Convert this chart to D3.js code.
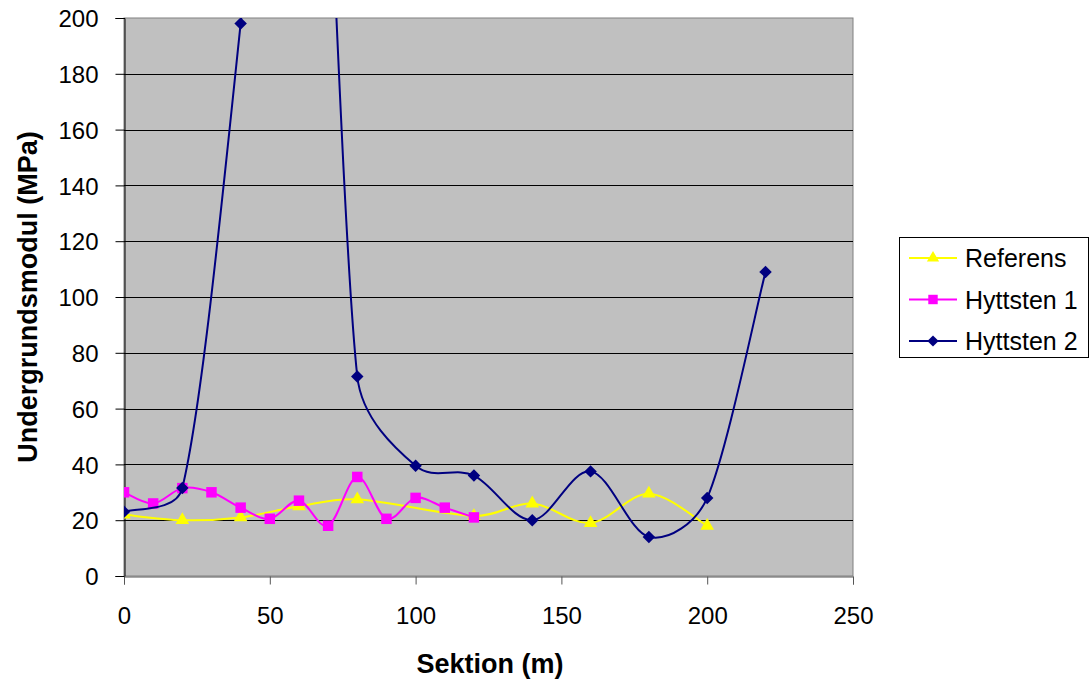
<!DOCTYPE html>
<html>
<head>
<meta charset="utf-8">
<script src="https://cdn.jsdelivr.net/npm/d3@7"></script>
<style>
  body { margin: 0; background: #fff; }
  svg text { font-family: "Liberation Sans", Arial, sans-serif; }
</style>
</head>
<body>
<div id="chart"></div>
<script>
// Values
const refSections = [0, 20, 40, 60, 80, 120, 140, 160, 180, 200];
const refValues = [22, 20, 21, 25, 27.5, 21.5, 26, 19, 29.5, 18];

const hyt1Sections = [0, 10, 20, 30, 40, 50, 60, 70, 80, 90, 100, 110, 120];
const hyt1Values = [30, 26, 31.5, 30, 24.5, 20.5, 27, 18, 35.5, 20.5, 28, 24.5, 21];

const hyt2Sections = [0, 20, 40, 60, 80, 100, 120, 140, 160, 180, 200, 220];
const hyt2Values = [23, 31.5, 198, 430, 71.5, 39.5, 36, 20, 37.5, 14, 28, 109];

const xTicks = [0, 50, 100, 150, 200, 250];
const yTicks = [0, 20, 40, 60, 80, 100, 120, 140, 160, 180, 200];

const series = [
  { name: "Referens", color: "#FFFF00", symbol: "triangle", x: refSections, y: refValues },
  { name: "Hyttsten 1", color: "#FF00FF", symbol: "square", x: hyt1Sections, y: hyt1Values },
  { name: "Hyttsten 2", color: "#000080", symbol: "diamond", x: hyt2Sections, y: hyt2Values }
];

const W = 1091, H = 682;
const plot = { left: 124, top: 18, right: 853, bottom: 576 };

const svg = d3.select("#chart")
  .append("svg")
  .attr("width", W)
  .attr("height", H);

const xScale = d3.scaleLinear().domain([0, 250]).range([plot.left, plot.right]);
const yScale = d3.scaleLinear().domain([0, 200]).range([plot.bottom, plot.top]);

// Plot background
svg.append("rect")
  .attr("x", plot.left)
  .attr("y", plot.top)
  .attr("width", plot.right - plot.left)
  .attr("height", plot.bottom - plot.top)
  .attr("fill", "#C0C0C0")
  .attr("stroke", "#808080")
  .attr("stroke-width", 1);

// Gridlines
svg.append("g")
  .selectAll("line")
  .data(yTicks.filter(d => d > 0 && d < 200))
  .enter()
  .append("line")
  .attr("x1", plot.left)
  .attr("x2", plot.right)
  .attr("y1", d => Math.round(yScale(d)) + 0.5)
  .attr("y2", d => Math.round(yScale(d)) + 0.5)
  .attr("stroke", "#000")
  .attr("stroke-width", 1);

// Axes
const yAxis = d3.axisLeft(yScale).tickValues(yTicks).tickSize(9).tickPadding(17);
const xAxis = d3.axisBottom(xScale).tickValues(xTicks).tickSize(8).tickPadding(22);

const gy = svg.append("g")
  .attr("transform", `translate(${plot.left + 0.5},0)`)
  .call(yAxis);
gy.select(".domain").attr("stroke", "#000");
gy.selectAll(".tick line").attr("stroke", "#000");
gy.selectAll("text")
  .attr("font-size", 24)
  .attr("fill", "#000")
  .attr("dy", "0.36em");

const gx = svg.append("g")
  .attr("transform", `translate(0,${plot.bottom + 0.5})`)
  .call(xAxis);
gx.select(".domain").attr("stroke", "#555");
gx.selectAll(".tick line").attr("stroke", "#555");
gx.selectAll("text")
  .attr("font-size", 24)
  .attr("fill", "#000");

// Axis titles
svg.append("text")
  .attr("x", 490)
  .attr("y", 673)
  .attr("text-anchor", "middle")
  .attr("font-size", 27)
  .attr("font-weight", "bold")
  .text("Sektion (m)");

svg.append("text")
  .attr("transform", "translate(37,297) rotate(-90)")
  .attr("text-anchor", "middle")
  .attr("font-size", 27)
  .attr("font-weight", "bold")
  .text("Undergrundsmodul (MPa)");

// Series
svg.append("clipPath")
  .attr("id", "plotClip")
  .append("rect")
  .attr("x", plot.left)
  .attr("y", plot.top)
  .attr("width", plot.right - plot.left)
  .attr("height", plot.bottom - plot.top);

const symbolPath = (type, scale = 1) => {
  if (type === "triangle") return d3.symbol(d3.symbolTriangle, 80 * scale * scale)();
  if (type === "square") return d3.symbol(d3.symbolSquare, 110 * scale * scale)();
  return d3.symbol(d3.symbolSquare, 78 * scale * scale)();
};
const symbolRotate = type => (type === "diamond" ? " rotate(45)" : "");

// Spreadsheet-style smoothing: uniform Catmull-Rom tangents, but a control
// point may not reach further than a share of its own segment, so short
// segments next to a huge jump don't swing past their end points.
function SmoothCurve(context) {
  this._context = context;
}
SmoothCurve.prototype = {
  areaStart() { this._line = 0; },
  areaEnd() { this._line = NaN; },
  lineStart() { this._pts = []; },
  point(x, y) { this._pts.push([+x, +y]); },
  lineEnd() {
    const p = this._pts, n = p.length, ctx = this._context;
    if (!n) return;
    ctx.moveTo(p[0][0], p[0][1]);
    if (n < 3) {
      for (let i = 1; i < n; i++) ctx.lineTo(p[i][0], p[i][1]);
      return;
    }
    const k = 0.4;
    const tan = p.map((_, i) => {
      const a = p[Math.max(i - 1, 0)], b = p[Math.min(i + 1, n - 1)];
      return [(b[0] - a[0]) / 6, (b[1] - a[1]) / 6];
    });
    const limit = (t, len) => {
      const m = Math.hypot(t[0], t[1]);
      const s = m > k * len ? (k * len) / m : 1;
      return [t[0] * s, t[1] * s];
    };
    for (let i = 0; i < n - 1; i++) {
      const a = p[i], b = p[i + 1];
      const len = Math.hypot(b[0] - a[0], b[1] - a[1]);
      const t0 = limit(tan[i], len), t1 = limit(tan[i + 1], len);
      ctx.bezierCurveTo(a[0] + t0[0], a[1] + t0[1], b[0] - t1[0], b[1] - t1[1], b[0], b[1]);
    }
  }
};
const curveSmooth = context => new SmoothCurve(context);

const lineGen = d3.line()
  .x(d => xScale(d[0]))
  .y(d => yScale(d[1]))
  .curve(curveSmooth);

const seriesLayer = svg.append("g").attr("clip-path", "url(#plotClip)");

series.forEach(s => {
  const pts = s.x.map((x, i) => [x, s.y[i]]);
  const g = seriesLayer.append("g");
  g.append("path")
    .datum(pts)
    .attr("fill", "none")
    .attr("stroke", s.color)
    .attr("stroke-width", 2)
    .attr("d", lineGen);
  g.selectAll("path.mark")
    .data(pts)
    .enter()
    .append("path")
    .attr("class", "mark")
    .attr("d", symbolPath(s.symbol))
    .attr("transform", d => `translate(${xScale(d[0])},${yScale(d[1])})${symbolRotate(s.symbol)}`)
    .attr("fill", s.color);
});

// Legend
const legend = svg.append("g");
legend.append("rect")
  .attr("x", 899.5)
  .attr("y", 237.5)
  .attr("width", 189)
  .attr("height", 120)
  .attr("fill", "#fff")
  .attr("stroke", "#000")
  .attr("stroke-width", 1);

series.forEach((s, i) => {
  const cy = 258 + i * 41.5;
  legend.append("line")
    .attr("x1", 909)
    .attr("x2", 957)
    .attr("y1", cy)
    .attr("y2", cy)
    .attr("stroke", s.color)
    .attr("stroke-width", 2);
  legend.append("path")
    .attr("d", symbolPath(s.symbol, 0.9))
    .attr("transform", `translate(933,${cy})${symbolRotate(s.symbol)}`)
    .attr("fill", s.color);
  legend.append("text")
    .attr("x", 965)
    .attr("y", cy + 9)
    .attr("font-size", 25)
    .attr("fill", "#000")
    .text(s.name);
});
</script>
</body>
</html>
